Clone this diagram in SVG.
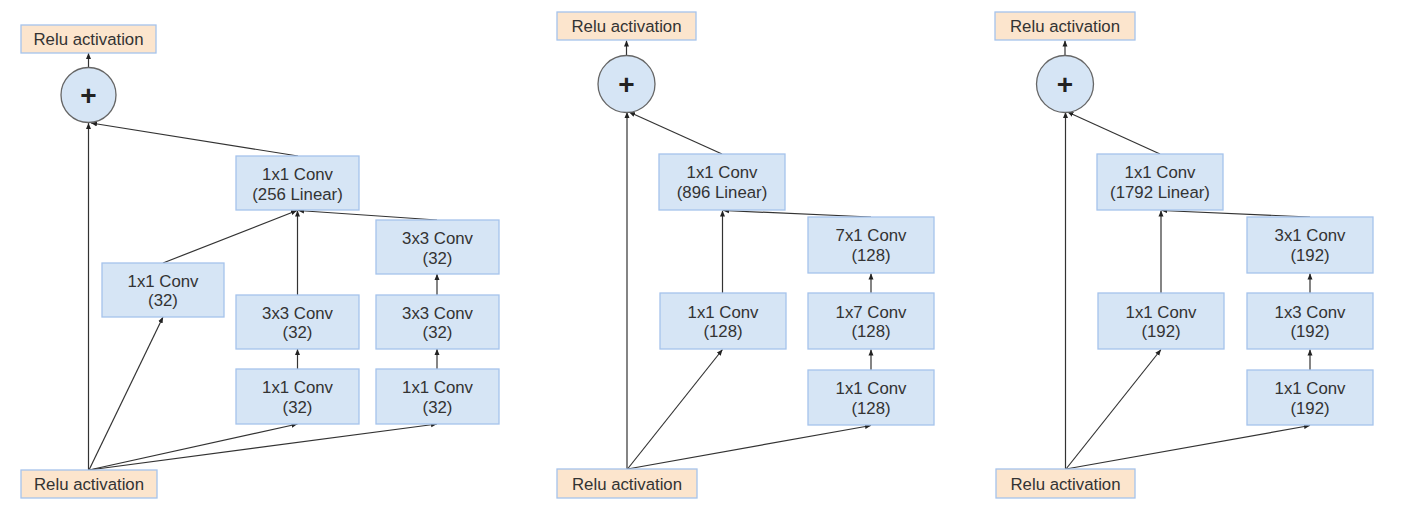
<svg xmlns="http://www.w3.org/2000/svg" width="1409" height="518" viewBox="0 0 1409 518">
<style>
.conv{fill:#d6e5f5;stroke:#a5c3ec;stroke-width:1.3}
.relu{fill:#fce5cd;stroke:#a5c3ec;stroke-width:1.3}
.sum{fill:#d6e5f5;stroke:#666;stroke-width:1.3}
text{font-family:"Liberation Sans",Arial,sans-serif;font-size:16.8px;fill:#333;text-anchor:middle}
.plus{font-size:28px;font-weight:bold;fill:#222}
.c line{stroke:#333;stroke-width:1.2;marker-end:url(#ah)}
</style>
<defs>
<marker id="ah" markerUnits="userSpaceOnUse" markerWidth="6" markerHeight="6" refX="6" refY="3" orient="auto">
<path d="M0,0.5 L6,3 L0,5.5 z" fill="#222"/>
</marker>
</defs>
<rect width="1409" height="518" fill="#fff"/>

<g class="c" id="connectors">
<!-- panel 1 -->
<line x1="88.5" y1="68" x2="88.5" y2="53"/>
<line x1="298" y1="156" x2="91" y2="123"/>
<line x1="88.5" y1="470" x2="88.5" y2="123"/>
<line x1="89" y1="470" x2="163" y2="317"/>
<line x1="89" y1="470" x2="297.5" y2="424"/>
<line x1="89" y1="470" x2="437" y2="424"/>
<line x1="163" y1="263" x2="297" y2="210.5"/>
<line x1="297.5" y1="295" x2="297.5" y2="210.5"/>
<line x1="437" y1="220" x2="298" y2="210.5"/>
<line x1="297.5" y1="369" x2="297.5" y2="349"/>
<line x1="437" y1="369" x2="437" y2="349"/>
<line x1="437" y1="295" x2="437" y2="274"/>
<!-- panel 2 -->
<line x1="626.5" y1="56" x2="626.5" y2="40.5"/>
<line x1="722" y1="154" x2="629" y2="112"/>
<line x1="627" y1="469" x2="627" y2="112"/>
<line x1="627.5" y1="469" x2="722.5" y2="349.5"/>
<line x1="627.5" y1="469" x2="871" y2="425.5"/>
<line x1="722.5" y1="293" x2="722.5" y2="210.5"/>
<line x1="871" y1="217" x2="723" y2="210.5"/>
<line x1="871" y1="370" x2="871" y2="349.5"/>
<line x1="871" y1="293" x2="871" y2="273.5"/>
<!-- panel 3 -->
<line x1="1065" y1="56" x2="1065" y2="40.5"/>
<line x1="1160" y1="154" x2="1067.5" y2="112"/>
<line x1="1065.5" y1="469" x2="1065.5" y2="112"/>
<line x1="1066" y1="469" x2="1161" y2="349.5"/>
<line x1="1066" y1="469" x2="1310" y2="425.5"/>
<line x1="1161" y1="293" x2="1161" y2="210.5"/>
<line x1="1310" y1="217" x2="1161.5" y2="210.5"/>
<line x1="1310" y1="370" x2="1310" y2="349.5"/>
<line x1="1310" y1="293" x2="1310" y2="273.5"/>
</g>

<!-- panel 1 nodes -->
<g id="p1-relu-out"><rect class="relu" x="21" y="25" width="135" height="28"/><text x="88.5" y="45">Relu activation</text></g>
<g id="p1-sum"><circle class="sum" cx="88.5" cy="95" r="27.5"/><text class="plus" x="88.5" y="104.5">+</text></g>
<g id="p1-linear"><rect class="conv" x="236" y="156" width="123" height="54"/><text x="297.5" y="180">1x1 Conv</text><text x="297.5" y="200">(256 Linear)</text></g>
<g id="p1-b1"><rect class="conv" x="102" y="263" width="122" height="54"/><text x="163" y="287">1x1 Conv</text><text x="163" y="306">(32)</text></g>
<g id="p1-b2a"><rect class="conv" x="236" y="369" width="123" height="55"/><text x="297.5" y="393">1x1 Conv</text><text x="297.5" y="413">(32)</text></g>
<g id="p1-b2b"><rect class="conv" x="236" y="295" width="123" height="54"/><text x="297.5" y="319">3x3 Conv</text><text x="297.5" y="338">(32)</text></g>
<g id="p1-b3a"><rect class="conv" x="376" y="369" width="123" height="55"/><text x="437.5" y="393">1x1 Conv</text><text x="437.5" y="413">(32)</text></g>
<g id="p1-b3b"><rect class="conv" x="376" y="295" width="123" height="54"/><text x="437.5" y="319">3x3 Conv</text><text x="437.5" y="338">(32)</text></g>
<g id="p1-b3c"><rect class="conv" x="376" y="220" width="123" height="54"/><text x="437.5" y="244">3x3 Conv</text><text x="437.5" y="264">(32)</text></g>
<g id="p1-relu-in"><rect class="relu" x="21" y="470" width="136" height="28"/><text x="89" y="490">Relu activation</text></g>

<!-- panel 2 nodes -->
<g id="p2-relu-out"><rect class="relu" x="557" y="12" width="139" height="28"/><text x="626.5" y="32">Relu activation</text></g>
<g id="p2-sum"><circle class="sum" cx="626.5" cy="84" r="28.5"/><text class="plus" x="626.5" y="93.5">+</text></g>
<g id="p2-linear"><rect class="conv" x="659" y="154" width="126" height="56"/><text x="722" y="178">1x1 Conv</text><text x="722" y="198">(896 Linear)</text></g>
<g id="p2-b1"><rect class="conv" x="660" y="293" width="126" height="56"/><text x="723" y="318">1x1 Conv</text><text x="723" y="337">(128)</text></g>
<g id="p2-b2a"><rect class="conv" x="808" y="370" width="126" height="55"/><text x="871" y="394">1x1 Conv</text><text x="871" y="414">(128)</text></g>
<g id="p2-b2b"><rect class="conv" x="808" y="293" width="126" height="56"/><text x="871" y="318">1x7 Conv</text><text x="871" y="337">(128)</text></g>
<g id="p2-b2c"><rect class="conv" x="808" y="217" width="126" height="56"/><text x="871" y="241">7x1 Conv</text><text x="871" y="261">(128)</text></g>
<g id="p2-relu-in"><rect class="relu" x="557" y="469" width="140" height="29"/><text x="627" y="489.5">Relu activation</text></g>

<!-- panel 3 nodes -->
<g id="p3-relu-out"><rect class="relu" x="995" y="12" width="140" height="28"/><text x="1065" y="32">Relu activation</text></g>
<g id="p3-sum"><circle class="sum" cx="1065" cy="84" r="28.5"/><text class="plus" x="1065" y="93.5">+</text></g>
<g id="p3-linear"><rect class="conv" x="1097" y="154" width="126" height="56"/><text x="1160" y="178">1x1 Conv</text><text x="1160" y="198">(1792 Linear)</text></g>
<g id="p3-b1"><rect class="conv" x="1098" y="293" width="126" height="56"/><text x="1161" y="318">1x1 Conv</text><text x="1161" y="337">(192)</text></g>
<g id="p3-b2a"><rect class="conv" x="1247" y="370" width="126" height="55"/><text x="1310" y="394">1x1 Conv</text><text x="1310" y="414">(192)</text></g>
<g id="p3-b2b"><rect class="conv" x="1247" y="293" width="126" height="56"/><text x="1310" y="318">1x3 Conv</text><text x="1310" y="337">(192)</text></g>
<g id="p3-b2c"><rect class="conv" x="1247" y="217" width="126" height="56"/><text x="1310" y="241">3x1 Conv</text><text x="1310" y="261">(192)</text></g>
<g id="p3-relu-in"><rect class="relu" x="996" y="469" width="139" height="29"/><text x="1065.5" y="489.5">Relu activation</text></g>
</svg>
